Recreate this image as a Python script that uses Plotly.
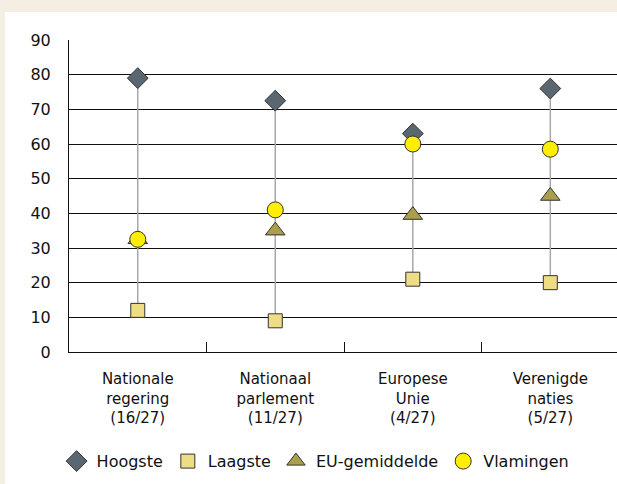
import plotly.graph_objects as go

categories = ["Nationale<br>regering<br>(16/27)", "Nationaal<br>parlement<br>(11/27)",
              "Europese<br>Unie<br>(4/27)", "Verenigde<br>naties<br>(5/27)"]
hoogste = [79, 72.5, 63, 76]
laagste = [12, 9, 21, 20]
eu_gemiddelde = [32.5, 35, 39.5, 45]
vlamingen = [32.5, 41, 60, 58.5]
y_ticks = [0, 10, 20, 30, 40, 50, 60, 70, 80, 90]

FONT = "DejaVu Sans"

fig = go.Figure()

# verticale lijn tussen laagste en hoogste waarde
xs, ys = [], []
for c, lo, hi in zip(categories, laagste, hoogste):
    xs += [c, c, None]
    ys += [lo, hi, None]
fig.add_trace(go.Scatter(x=xs, y=ys, mode="lines", line=dict(color="#a8a8a8", width=1.5),
                         showlegend=False, hoverinfo="skip"))

series = [
    ("Hoogste", hoogste, "diamond", 16, "#5b6770"),
    ("Laagste", laagste, "square", 14, "#eedd85"),
    ("EU-gemiddelde", eu_gemiddelde, "triangle-up", 17, "#a99f4c"),
    ("Vlamingen", vlamingen, "circle", 16, "#ffee00"),
]
for name, vals, sym, size, col in series:
    fig.add_trace(go.Scatter(
        x=categories, y=vals, mode="markers", name=name,
        marker=dict(symbol=sym, size=size, color=col, line=dict(color="#333333", width=1)),
    ))

# witte achtergrondpaneel
fig.add_shape(type="rect", xref="paper", yref="paper", x0=-0.117, x1=1.2, y0=-0.6, y1=1.09,
              fillcolor="white", line=dict(width=0), layer="below")

fig.update_layout(
    width=617, height=484,
    margin=dict(l=69, r=0, t=40, b=131.5, autoexpand=False),
    paper_bgcolor="#f4efe2", plot_bgcolor="white",
    font=dict(family=FONT, size=16, color="#111111"),
    legend=dict(orientation="h", x=0.45, xanchor="center", y=-0.35, yanchor="middle",
                font=dict(size=16), itemwidth=30, bgcolor="rgba(0,0,0,0)"),
)
fig.update_xaxes(range=[-0.5, 3.485], showline=True, linecolor="#111111", linewidth=1,
                 ticks="inside", tickson="boundaries", ticklen=10, tickcolor="#111111",
                 showgrid=False, ticklabelstandoff=13, tickfont=dict(size=15), automargin=False)
fig.update_yaxes(range=[0, 90], tickvals=y_ticks, showline=True, linecolor="#111111", linewidth=1,
                 gridcolor="#111111", gridwidth=1, zeroline=False, ticks="",
                 ticklabelstandoff=14, automargin=False)

fig.write_html("out.html", post_script="document.body.style.margin='0';",
               config={"displayModeBar": False})
